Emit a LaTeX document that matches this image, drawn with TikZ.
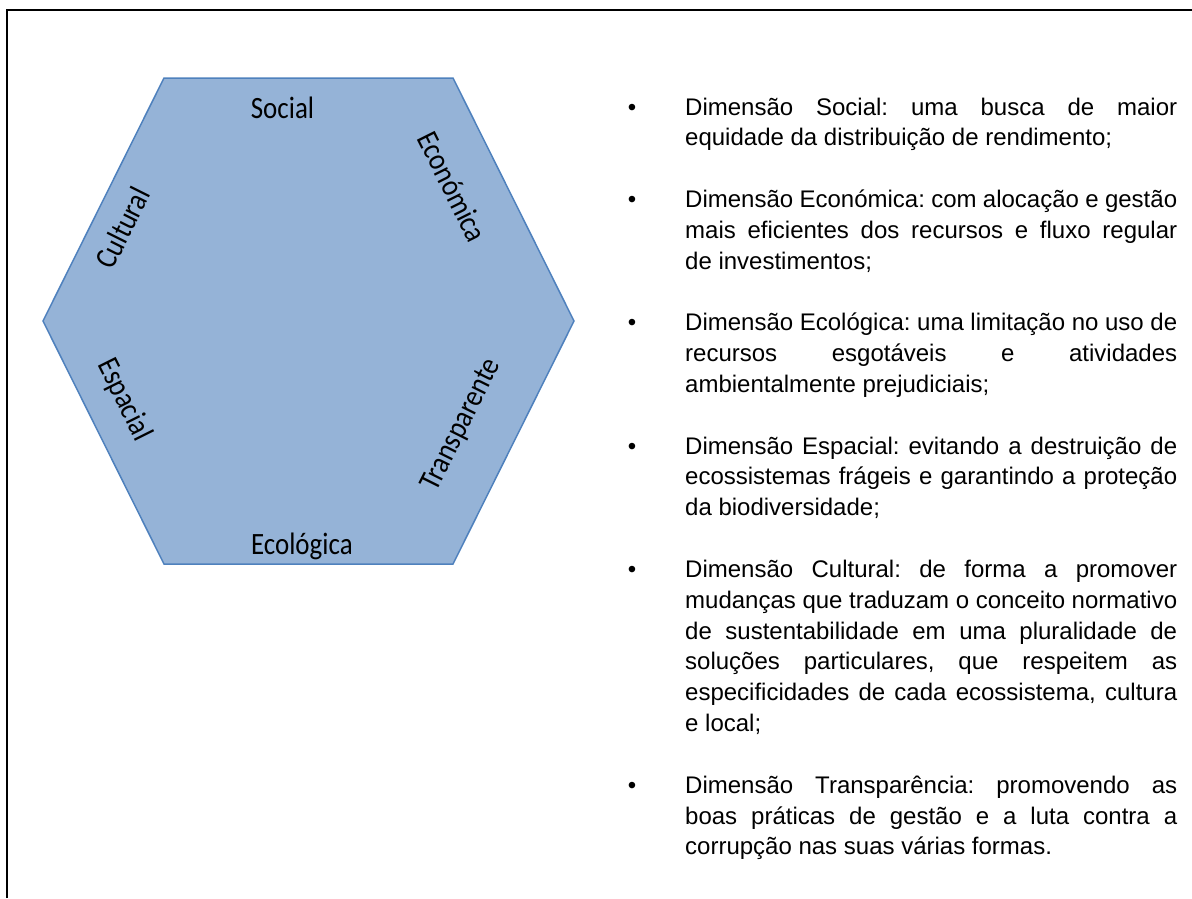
\documentclass[tikz,border=0pt]{standalone}
\usepackage{fontspec}
\setmainfont{Liberation Sans}
\newfontfamily\hexfont{Carlito}
\definecolor{hexfill}{HTML}{95B3D7}
\definecolor{hexdraw}{HTML}{4F81BD}
\frenchspacing
\newcommand\fulline[1]{\makebox[492pt][s]{#1}}
\newcommand\hx[1]{\scalebox{0.87}[1]{#1}}
\begin{document}
\begin{tikzpicture}[x=1pt,y=-1pt,
  hexlabel/.style={font=\hexfont\fontsize{31}{31}\selectfont, inner sep=0pt},
  bodyline/.style={anchor=base west, inner sep=0pt, font=\fontsize{24}{27.3}\selectfont},
  bulletmark/.style={anchor=base, inner sep=0pt, font=\fontsize{24}{27.3}\selectfont}]
\useasboundingbox (0,0) rectangle (1192,898);
\coordinate (fb) at (7,898);
\coordinate (fc) at (7,10);
\coordinate (fr) at (1192,10);
\draw[line width=2.5pt] (fb) -- (fc) -- (fr);
% hexagon
\coordinate (h1) at (164,78);
\coordinate (h2) at (453,78);
\coordinate (h3) at (574,321);
\coordinate (h4) at (453,564);
\coordinate (h5) at (164,564);
\coordinate (h6) at (43,321);
\draw[hexdraw, fill=hexfill, line width=1.5pt, line join=miter] (h1)--(h2)--(h3)--(h4)--(h5)--(h6)--cycle;
\node[hexlabel] (social) at (282.5,107.7) {\hx{Social}};
\node[hexlabel, rotate=-63.5] (econ) at (452.6,186.7) {\hx{Económica}};
\node[hexlabel, rotate=63.5] (cult) at (122.4,227.7) {\hx{Cultural}};
\node[hexlabel, rotate=-63.5] (espa) at (124.2,400) {\hx{Espacial}};
\node[hexlabel, rotate=63.5] (transp) at (461.6,425) {\hx{Transparente}};
\node[hexlabel] (ecol) at (301.9,546) {\hx{Ecológica}};
% text
\newcommand\tline[3]{\node[bodyline] (#1) at (685,115+30.83*#2) {#3};}
\newcommand\bmark[2]{\node[bulletmark] (#1) at (632,115+30.83*#2) {•};}
\bmark{b1}{0}
\tline{l0}{0}{\fulline{Dimensão Social: uma busca de maior}}
\tline{l1}{1}{equidade da distribuição de rendimento;}
\bmark{b2}{3}
\tline{l3}{3}{\fulline{Dimensão Económica: com alocação e gestão}}
\tline{l4}{4}{\fulline{mais eficientes dos recursos e fluxo regular}}
\tline{l5}{5}{de investimentos;}
\bmark{b3}{7}
\tline{l7}{7}{\fulline{Dimensão Ecológica: uma limitação no uso de}}
\tline{l8}{8}{\fulline{recursos esgotáveis e atividades}}
\tline{l9}{9}{ambientalmente prejudiciais;}
\bmark{b4}{11}
\tline{l11}{11}{\fulline{Dimensão Espacial: evitando a destruição de}}
\tline{l12}{12}{\fulline{ecossistemas frágeis e garantindo a proteção}}
\tline{l13}{13}{da biodiversidade;}
\bmark{b5}{15}
\tline{l15}{15}{\fulline{Dimensão Cultural: de forma a promover}}
\tline{l16}{16}{\fulline{mudanças que traduzam o conceito normativo}}
\tline{l17}{17}{\fulline{de sustentabilidade em uma pluralidade de}}
\tline{l18}{18}{\fulline{soluções particulares, que respeitem as}}
\tline{l19}{19}{\fulline{especificidades de cada ecossistema, cultura}}
\tline{l20}{20}{e local;}
\bmark{b6}{22}
\tline{l22}{22}{\fulline{Dimensão Transparência: promovendo as}}
\tline{l23}{23}{\fulline{boas práticas de gestão e a luta contra a}}
\tline{l24}{24}{corrupção nas suas várias formas.}
\end{tikzpicture}
\end{document}
